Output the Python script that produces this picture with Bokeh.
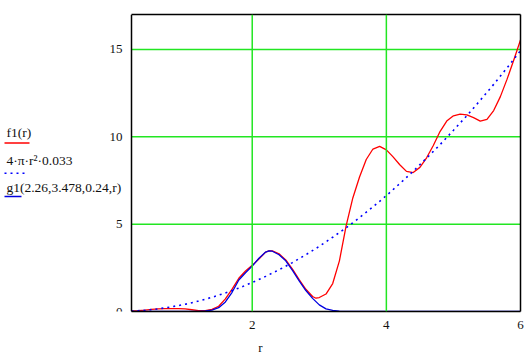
from bokeh.plotting import figure
from bokeh.models import FixedTicker, Label, Span, LinearAxis
from bokeh.embed import file_html
from bokeh.resources import INLINE

# ---- data ----
r_f1 = [0.2, 0.3, 0.4, 0.5, 0.6, 0.7, 0.8, 0.9, 1.0, 1.1, 1.2, 1.3, 1.4, 1.5,
        1.6, 1.7, 1.8, 1.9, 2.0, 2.1, 2.2, 2.25, 2.3, 2.4, 2.5, 2.6, 2.7, 2.8,
        2.9, 2.95, 3.0, 3.1, 3.2, 3.3, 3.4, 3.5, 3.6, 3.7, 3.8, 3.9, 4.0, 4.1,
        4.2, 4.3, 4.4, 4.5, 4.6, 4.7, 4.8, 4.9, 5.0, 5.1, 5.2, 5.3, 5.4, 5.5,
        5.6, 5.7, 5.8, 5.9, 6.0]
f1 = [0.03, 0.05, 0.08, 0.12, 0.15, 0.17, 0.17, 0.17, 0.15, 0.10, 0.05, 0.05,
      0.12, 0.30, 0.72, 1.28, 1.90, 2.32, 2.65, 3.00, 3.40, 3.47, 3.47, 3.30,
      2.95, 2.42, 1.82, 1.27, 0.86, 0.76, 0.80, 1.00, 1.60, 2.90, 4.90, 6.50,
      7.70, 8.70, 9.30, 9.45, 9.25, 8.85, 8.40, 8.02, 7.95, 8.25, 8.80, 9.50,
      10.30, 10.90, 11.20, 11.30, 11.25, 11.10, 10.90, 11.00, 11.50, 12.30,
      13.30, 14.40, 15.55]

r_dens = [0.2, 0.4, 0.6, 0.8, 1.0, 1.2, 1.4, 1.6, 1.8, 2.0, 2.2, 2.4, 2.6, 2.8,
          3.0, 3.2, 3.4, 3.6, 3.8, 4.0, 4.2, 4.4, 4.6, 4.8, 5.0, 5.2, 5.4, 5.6,
          5.8, 6.0]
dens = [0.02, 0.07, 0.15, 0.27, 0.41, 0.60, 0.81, 1.06, 1.34, 1.66, 2.01, 2.39,
        2.80, 3.25, 3.73, 4.25, 4.79, 5.37, 5.99, 6.63, 7.32, 8.03, 8.78, 9.55,
        10.37, 11.21, 12.09, 13.00, 13.95, 14.93]

r_g1 = [0.2, 0.6, 1.0, 1.1, 1.2, 1.3, 1.4, 1.5, 1.6, 1.7, 1.8, 1.9, 2.0, 2.1,
        2.2, 2.25, 2.3, 2.4, 2.5, 2.6, 2.7, 2.8, 2.9, 3.0, 3.1, 3.2, 3.3, 3.4,
        4.0, 5.0, 6.0]
g1 = [0.0, 0.0, 0.0, 0.0, 0.01, 0.03, 0.08, 0.22, 0.55, 1.10, 1.80, 2.22, 2.60,
      3.05, 3.40, 3.47, 3.45, 3.25, 2.90, 2.35, 1.75, 1.20, 0.75, 0.38, 0.15,
      0.06, 0.02, 0.0, 0.0, 0.0, 0.0]

x_ticks = [2, 4, 6]
y_ticks = [0, 5, 10, 15]
legend_labels = ["f1(r)", "4·π·r²·0.033", "g1(2.26,3.478,0.24,r)"]

FONT = "Liberation Serif"
TXT = "#111111"
GREEN = "#22e622"

# plotted data window
X0, X1 = 0.2, 6.0
Y0, Y1 = 0.0, 17.0
W, H = 532, 357
AXL, FR, FT, FB = 131, 520, 14, 319      # pixel positions of the plot box
PXU = (FR - AXL) / (X1 - X0)             # pixels per x unit
XV0 = X0 - AXL / PXU                     # visible range starts at canvas left

p = figure(width=W, height=H, x_range=(XV0, X1), y_range=(Y0, Y1),
           output_backend="svg", toolbar_location=None,
           min_border_left=0, min_border_right=W - FR,
           min_border_top=FT, min_border_bottom=H - FB)
p.background_fill_color = "white"
p.border_fill_color = "white"
p.outline_line_color = None

for ax in (p.xaxis, p.yaxis):
    ax.axis_line_color = "black"
    ax.axis_line_width = 1.5
    ax.major_tick_line_color = None
    ax.minor_tick_line_color = None
    ax.major_label_text_font = FONT
    ax.major_label_text_font_size = "13px"
    ax.major_label_text_color = TXT
    ax.major_label_standoff = 3

p.xaxis.ticker = FixedTicker(ticks=x_ticks)
p.xaxis.bounds = (X0, X1)
p.yaxis.ticker = FixedTicker(ticks=y_ticks)
p.yaxis.fixed_location = X0
p.xaxis.axis_label = "r"
p.xaxis.axis_label_text_font = FONT
p.xaxis.axis_label_text_font_style = "normal"
p.xaxis.axis_label_text_font_size = "13px"
p.xaxis.axis_label_text_color = TXT
p.xaxis.axis_label_standoff = 8

# top and right border of the plot box (axis lines only, no ticks or labels)
top_ax = LinearAxis(bounds=(X0, X1), ticker=FixedTicker(ticks=[]),
                    axis_line_color="black", axis_line_width=1.5,
                    major_tick_line_color=None, minor_tick_line_color=None)
right_ax = LinearAxis(ticker=FixedTicker(ticks=[]),
                      axis_line_color="black", axis_line_width=1.5,
                      major_tick_line_color=None, minor_tick_line_color=None)
p.add_layout(top_ax, "above")
p.add_layout(right_ax, "right")

p.xgrid.visible = False
p.ygrid.visible = False
for t in x_ticks[:-1]:
    p.add_layout(Span(location=t, dimension="height", line_color=GREEN, line_width=1.5))
gy = y_ticks[1:]
p.segment(x0=[X0] * len(gy), x1=[X1] * len(gy), y0=gy, y1=gy,
          line_color=GREEN, line_width=1.5)

p.line(r_f1, f1, line_color="red", line_width=1.3)
p.line(r_dens, dens, line_color="blue", line_width=1.6, line_dash="2 4")
p.line(r_g1, g1, line_color="#0000e0", line_width=1.3)

# legend at the left of the plot box (pixel -> data conversion)
def sx(px):
    return XV0 + px / PXU

def sy(py):
    return Y0 + (FB - py) * (Y1 - Y0) / (FB - FT)

leg_y_text = [135, 164, 192]
leg_y_line = [146, 177, 201]
leg_x_end = [29, 24, 21]
leg_color = ["red", "blue", "#0000e0"]
leg_dash = ["solid", "2 4", "solid"]
for lab, yt, yl, xe, c, d in zip(legend_labels, leg_y_text, leg_y_line,
                                 leg_x_end, leg_color, leg_dash):
    p.add_layout(Label(x=sx(6), y=sy(yt), text=lab, text_font=FONT,
                       text_font_size="13.5px", text_color=TXT,
                       text_baseline="middle", text_align="left"))
    p.line([sx(4), sx(xe)], [sy(yl), sy(yl)], line_color=c,
           line_width=1.5, line_dash=d)

open("out.html", "w").write(file_html(p, INLINE))
